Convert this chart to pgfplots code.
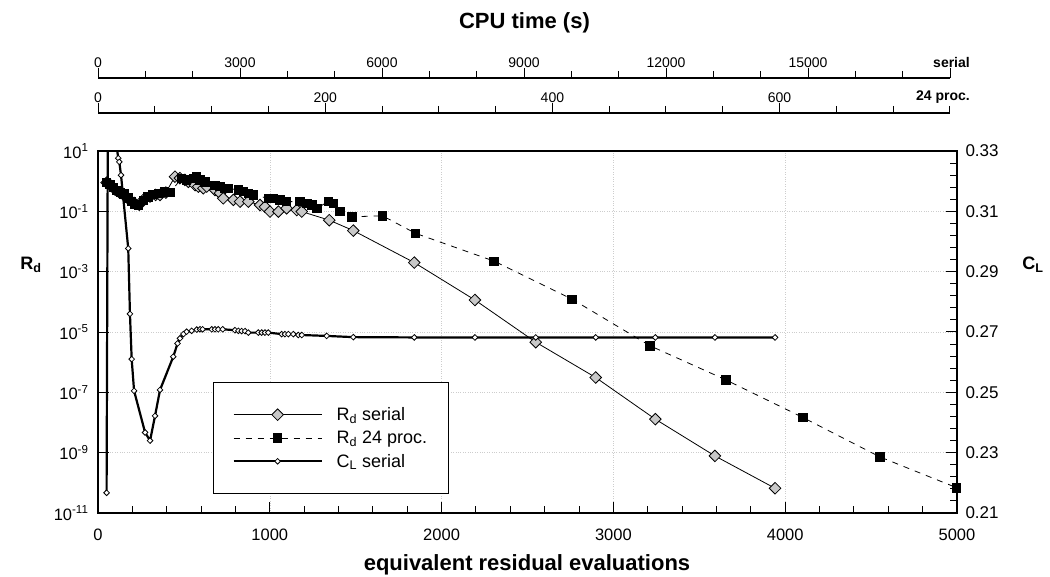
\documentclass[border=0pt]{standalone}
\usepackage{fontspec}
\setmainfont{Liberation Sans}
\usepackage{pgfplots}
\pgfplotsset{compat=1.18}
\definecolor{dgray}{RGB}{200,200,200}
\definecolor{gridc}{RGB}{205,205,205}

\pgfplotstableread{
x y
50 0.89
75 0.71
100 0.52
125 0.42
150 0.35
180 0.25
210 0.19
240 0.166
264 0.24
303 0.31
335 0.35
361 0.35
395 0.42
448 1.41
477 1.26
506 1.10
526 0.95
565 0.74
584 0.66
613 0.58
633 0.66
681 0.51
710 0.40
729 0.27
788 0.24
827 0.21
875 0.21
943 0.162
972 0.141
1001 0.098
1050 0.098
1098 0.126
1157 0.110
1186 0.098
1346 0.051
1486 0.023
1841 2.0e-3
2194 1.15e-4
2548 4.6e-6
2897 3.1e-7
3244 1.29e-8
3591 7.8e-10
3941 6.6e-11
}\rdserial

\pgfplotstableread{
x y
50 0.89
70 0.79
90 0.63
110 0.50
130 0.42
150 0.38
175 0.28
195 0.21
215 0.166
235 0.158
265 0.23
290 0.30
320 0.36
350 0.40
385 0.44
420 0.42
487 1.26
516 1.10
555 1.26
574 1.41
594 1.10
623 0.95
681 0.74
710 0.66
739 0.58
758 0.58
817 0.51
846 0.45
875 0.40
904 0.35
991 0.27
1020 0.27
1059 0.24
1098 0.21
1176 0.21
1215 0.186
1244 0.162
1273 0.126
1340 0.21
1370 0.186
1409 0.098
1477 0.066
1656 0.071
1849 0.0186
2305 2.24e-3
2759 1.23e-4
3213 3.5e-6
3654 2.6e-7
4102 1.48e-8
4552 7.2e-10
4998 6.9e-11
}\rdpar

\pgfplotstableread{
x y
50 0.2167
58 0.352
118 0.3276
124 0.3264
134 0.3220
176 0.2977
186 0.2760
196 0.2610
210 0.2505
274 0.2367
303 0.2340
332 0.2422
361 0.2508
438 0.2618
463 0.2662
477 0.2679
497 0.2693
516 0.2701
545 0.2704
575 0.2708
594 0.2709
609 0.2709
662 0.2709
681 0.2709
700 0.2709
726 0.2709
797 0.2706
817 0.2704
836 0.2703
856 0.2703
875 0.2698
933 0.2698
953 0.2698
972 0.2698
991 0.2698
1069 0.2693
1088 0.2693
1108 0.2693
1137 0.2693
1166 0.2690
1186 0.2690
1331 0.2687
1486 0.2683
1841 0.2682
2194 0.2682
2548 0.2682
2897 0.2682
3244 0.2682
3591 0.2682
3941 0.2682
}\clserial

\begin{document}
\begin{tikzpicture}
\useasboundingbox (0pt,0pt) rectangle (1050pt,576pt);

% ---------- main axis (left, log) ----------
\begin{axis}[
  at={(98pt,63pt)}, anchor=south west,
  scale only axis, width=859pt, height=362pt,
  xmin=0, xmax=5000,
  ymode=log, ymin=1e-11, ymax=1e1,
  xtick={0,1000,2000,3000,4000,5000},
  xticklabels={0,1000,2000,3000,4000,5000},
  minor x tick num=4,
  ytick={1e1,1e-1,1e-3,1e-5,1e-7,1e-9,1e-11},
  yticklabels={10\textsuperscript{1},10\textsuperscript{-1},10\textsuperscript{-3},10\textsuperscript{-5},10\textsuperscript{-7},10\textsuperscript{-9},10\textsuperscript{-11}},
  yminorticks=false,
  xtick pos=bottom, ytick pos=left,
  tick align=inside,
  major tick length=11pt, minor tick length=7pt,
  every tick/.style={black, line width=1pt},
  axis line style={line width=1.5pt},
  grid=major,
  major grid style={dotted, gridc, line width=0.6pt},
  ticklabel style={font=\fontsize{16.5}{19}\selectfont},
  xticklabel style={yshift=-12pt},
  yticklabel style={xshift=-6pt},
]
\addplot[black, line width=0.8pt, mark=square*, mark size=4.1pt,
  mark options={rotate=45, fill=dgray, draw=black, line width=0.8pt, solid}]
  table[x=x,y=y] {\rdserial};
\addplot[black, line width=0.8pt, dash pattern=on 6pt off 6pt, mark=square*, mark size=4.2pt,
  mark options={solid, fill=black}]
  table[x=x,y=y] {\rdpar};
\end{axis}

% ---------- right axis (C_L) ----------
\begin{axis}[
  at={(98pt,63pt)}, anchor=south west,
  scale only axis, width=859pt, height=362pt,
  xmin=0, xmax=5000, ymin=0.21, ymax=0.33,
  axis x line=none, axis y line*=right,
  ytick={0.21,0.23,0.25,0.27,0.29,0.31,0.33},
  yticklabels={0.21,0.23,0.25,0.27,0.29,0.31,0.33},
  minor y tick num=4,
  ytick align=inside,
  major tick length=11pt, minor tick length=7pt,
  every tick/.style={black, line width=1pt},
  axis line style={line width=1.5pt, -},
  ticklabel style={font=\fontsize{17}{20}\selectfont},
  yticklabel style={xshift=5pt},
  legend image code/.code={\draw[mark repeat=2,mark phase=2,#1] plot coordinates {(0pt,0pt) (44pt,0pt) (88pt,0pt)};},
  legend style={at={(0.1339,0.362)}, anchor=north west, draw=black, line width=1pt,
    font=\fontsize{18}{21}\selectfont, inner xsep=19pt, inner ysep=23pt, row sep=5pt,
    column sep=12pt, cells={anchor=west}},
]
\addlegendimage{black, line width=0.8pt, mark=square*, mark size=4.1pt,
  mark options={rotate=45, fill=dgray, draw=black, line width=0.8pt, solid}}
\addlegendentry{R\textsubscript{d} serial}
\addlegendimage{black, line width=0.8pt, dash pattern=on 6pt off 6pt, mark=square*, mark size=4.2pt,
  mark options={solid, fill=black}}
\addlegendentry{R\textsubscript{d} 24 proc.}
\addplot[black, line width=2.2pt, mark=square*, mark size=2pt,
  mark options={rotate=45, fill=white, draw=black, line width=0.8pt, solid}]
  table[x=x,y=y] {\clserial};
\addlegendentry{C\textsubscript{L} serial}
\end{axis}

% ---------- top axis: serial ----------
\begin{axis}[
  at={(98pt,498pt)}, anchor=north west,
  scale only axis, width=852pt, height=5pt,
  xmin=0, xmax=18000, ymin=0, ymax=1,
  scaled x ticks=false,
  axis x line=top, axis y line=none, ytick=\empty,
  xtick={0,3000,6000,9000,12000,15000,18000},
  xticklabels={0,3000,6000,9000,12000,15000,{}},
  minor x tick num=2,
  xtick align=outside,
  major tick length=10pt, minor tick length=7pt,
  every tick/.style={black, line width=1pt},
  axis line style={line width=1.3pt, -},
  ticklabel style={font=\fontsize{14}{17}\selectfont},
  xticklabel style={yshift=-3pt},
]
\end{axis}

% ---------- top axis: 24 proc ----------
\begin{axis}[
  at={(98pt,463pt)}, anchor=north west,
  scale only axis, width=852pt, height=5pt,
  xmin=0, xmax=750, ymin=0, ymax=1,
  scaled x ticks=false,
  axis x line=top, axis y line=none, ytick=\empty,
  xtick={0,200,400,600},
  xticklabels={0,200,400,600},
  minor xtick={50,100,150,250,300,350,450,500,550,650,700,750},
  xtick align=outside,
  major tick length=10pt, minor tick length=7pt,
  every tick/.style={black, line width=1pt},
  axis line style={line width=1.3pt, -},
  ticklabel style={font=\fontsize{14}{17}\selectfont},
  xticklabel style={yshift=-3pt},
]
\end{axis}

\node[anchor=base east, inner sep=0pt, font=\bfseries\fontsize{14}{17}\selectfont] at (970pt,508pt) {serial};
\node[anchor=base east, inner sep=0pt, font=\bfseries\fontsize{14}{17}\selectfont] at (970pt,475pt) {24 proc.};
\node[font=\bfseries\fontsize{22}{26}\selectfont] at (524.5pt,553pt) {CPU time (s)};
\node[font=\bfseries\fontsize{22}{26}\selectfont] at (527pt,11pt) {equivalent residual evaluations};
\node[font=\bfseries\fontsize{18}{22}\selectfont] at (31pt,311pt) {R\textsubscript{d}};
\node[font=\bfseries\fontsize{18}{22}\selectfont] at (1033pt,311pt) {C\textsubscript{L}};
\end{tikzpicture}
\end{document}
